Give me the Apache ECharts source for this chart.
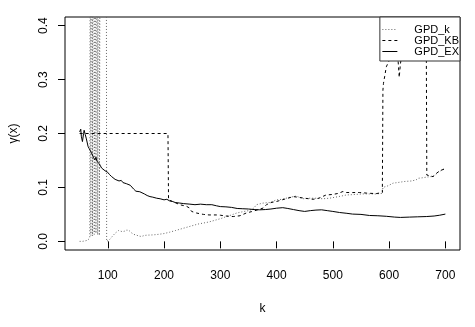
<!DOCTYPE html>
<html><head><meta charset="utf-8">
<script src="https://cdn.jsdelivr.net/npm/echarts@6/dist/echarts.min.js"></script>
<style>html,body{margin:0;padding:0;background:#fff}#c{width:475px;height:327px}</style>
</head><body><div id="c"></div>
<script>
const xTicks = [100, 200, 300, 400, 500, 600, 700];
const yTicks = [0.0, 0.1, 0.2, 0.3, 0.4];
const seriesNames = ['GPD_k', 'GPD_KB', 'GPD_EX'];

// GPD_k (dotted)
const kK = [50,55,60,64,66,68,69,70,71,72,73,74,75,76,77,78,79,80,81,82,83,84,85,86,87,88,89,90,91,92,93,94,95,96,97,98,99,101,104,107,110,113,116,119,122,126,130,134,138,142,146,150,155,160,165,170,180,190,200,210,220,230,240,250,260,270,280,290,300,311,320,329,340,352,360,364,376,388,400,410,417,425,435,447,459,471,482,494,505,515,524,540,553,565,577,588,589,598,607,615,627,640,648,652,660,666,672,678,683,688,695,700];
const vK = [0.0,0.0,0.001,0.002,0.004,0.006,0.9,0.011,0.012,1.2,0.010,0.012,1.5,0.013,0.011,0.8,0.015,0.012,1.1,0.012,0.014,1.3,0.011,0.013,0.9,1.2,0.9,1.1,0.95,1.3,0.85,1.0,1.2,0.9,1.1,0.0,0.001,0.002,0.004,0.008,0.010,0.015,0.018,0.020,0.022,0.018,0.019,0.021,0.020,0.016,0.013,0.012,0.010,0.009,0.011,0.0115,0.012,0.013,0.0145,0.017,0.020,0.023,0.026,0.029,0.032,0.034,0.036,0.039,0.042,0.046,0.049,0.0525,0.055,0.0573,0.062,0.068,0.071,0.072,0.077,0.078,0.080,0.082,0.084,0.079,0.080,0.080,0.079,0.080,0.082,0.084,0.086,0.087,0.088,0.088,0.088,0.089,0.100,0.103,0.108,0.109,0.111,0.112,0.114,0.117,0.118,0.119,0.120,0.120,0.124,0.129,0.1325,0.136];

// GPD_KB (dashed)
const kKB = [50,207,208,215,228,240,245,249,258,270,280,293,300,310,323,335,346,355,365,376,382,390,400,410,420,430,440,450,465,475,488,500,510,518,524,535,547,560,577,588,589,590,592,595,599,604,610,616,618,620,623,630,640,650,660,666,667,669,678,684,690,698,700];
const vKB = [0.2,0.2,0.077,0.074,0.068,0.065,0.062,0.0555,0.0525,0.050,0.049,0.049,0.0485,0.047,0.046,0.0475,0.0525,0.055,0.058,0.0617,0.068,0.072,0.074,0.077,0.080,0.083,0.0815,0.080,0.078,0.080,0.086,0.087,0.089,0.0925,0.0906,0.0905,0.0906,0.0895,0.0885,0.0906,0.28,0.293,0.305,0.3235,0.333,0.339,0.336,0.335,0.304,0.328,0.35,0.37,0.38,0.385,0.38,0.39,0.123,0.1214,0.120,0.126,0.131,0.134,0.135];

// GPD_EX (solid)
const kEX = [50,52,53,55,57,58,60,62,65,67,70,72,75,77,79,81,83,85,87,89,92,95,98,100,103,107,110,113,116,120,124,127,130,133,136,140,143,146,150,153,157,160,165,170,175,180,187,193,200,205,210,215,220,228,235,246,255,265,275,285,293,300,310,320,330,340,350,360,370,380,390,400,411,420,430,440,450,460,470,480,490,500,512,525,535,550,565,580,595,610,620,636,650,666,680,690,700];
const vEX = [0.203,0.208,0.195,0.185,0.200,0.206,0.198,0.190,0.176,0.172,0.166,0.162,0.155,0.151,0.156,0.148,0.150,0.144,0.140,0.136,0.138,0.131,0.129,0.128,0.124,0.120,0.117,0.115,0.114,0.112,0.113,0.109,0.110,0.107,0.108,0.104,0.101,0.097,0.093,0.090,0.092,0.089,0.088,0.085,0.083,0.082,0.080,0.079,0.077,0.078,0.075,0.074,0.072,0.071,0.070,0.069,0.068,0.069,0.068,0.068,0.066,0.0645,0.064,0.063,0.061,0.0605,0.060,0.059,0.0585,0.059,0.060,0.0615,0.0625,0.061,0.059,0.057,0.0555,0.057,0.058,0.0585,0.057,0.0555,0.0535,0.052,0.0506,0.050,0.048,0.0475,0.0465,0.045,0.0444,0.045,0.0455,0.046,0.047,0.0485,0.0506];

const pairs = (ks, vs) => ks.map((k, i) => [k, vs[i]]);
const FONT = 'Liberation Sans, Arial, Helvetica, sans-serif';

const chart = echarts.init(document.getElementById('c'), null, {renderer: 'canvas'});
chart.setOption({
  animation: false,
  backgroundColor: '#fff',
  textStyle: {fontFamily: FONT},
  grid: {left: 65, right: 15, top: 17, bottom: 77, show: true, borderColor: '#000', borderWidth: 1, backgroundColor: 'transparent'},
  legend: {
    orient: 'vertical', right: 15, top: 17,
    data: seriesNames,
    backgroundColor: '#fff', borderColor: '#333', borderWidth: 1, borderRadius: 0,
    padding: [7, 1, 4, 2],
    itemGap: 0, itemWidth: 15, itemHeight: 9.5,
    itemStyle: {color: 'transparent', borderWidth: 0, opacity: 0},
    lineStyle: {width: 1},
    formatter: name => '{t|' + name + '}',
    textStyle: {fontSize: 11, color: '#000', fontFamily: FONT, lineHeight: 9.5,
      rich: {t: {fontSize: 11, color: '#000', fontFamily: FONT, lineHeight: 9.5, padding: [0, 0, 0, 12]}}}
  },
  xAxis: {
    type: 'value', min: 24, max: 726,
    name: 'k', nameLocation: 'middle', nameGap: 53,
    nameTextStyle: {fontSize: 12, color: '#000', fontFamily: FONT},
    axisLine: {show: false},
    splitLine: {show: false},
    axisTick: {show: true, length: 7, customValues: xTicks, lineStyle: {color: '#000'}},
    axisLabel: {customValues: xTicks, fontSize: 12, color: '#000', margin: 20, fontFamily: FONT}
  },
  yAxis: {
    type: 'value', min: -0.016, max: 0.416,
    name: 'γ(x)', nameLocation: 'middle', nameGap: 45,
    nameTextStyle: {fontSize: 12, color: '#000', fontFamily: FONT},
    axisLine: {show: false},
    splitLine: {show: false},
    axisTick: {show: true, length: 7, customValues: yTicks, lineStyle: {color: '#000'}},
    axisLabel: {customValues: yTicks, fontSize: 12, color: '#000', margin: 15, rotate: 90, fontFamily: FONT,
      formatter: v => Number(v).toFixed(1)}
  },
  series: [
    {name: 'GPD_k', type: 'line', data: pairs(kK, vK), symbol: 'none', showSymbol: false, clip: true,
     lineStyle: {color: '#666', width: 1, type: [1, 2]}, itemStyle: {color: '#666'}},
    {name: 'GPD_KB', type: 'line', data: pairs(kKB, vKB), symbol: 'none', showSymbol: false, clip: true,
     lineStyle: {color: '#000', width: 1, type: [3, 3]}, itemStyle: {color: '#000'}},
    {name: 'GPD_EX', type: 'line', data: pairs(kEX, vEX), symbol: 'none', showSymbol: false, clip: true,
     lineStyle: {color: '#000', width: 1, type: 'solid'}, itemStyle: {color: '#000'}}
  ]
});
</script>
</body></html>
